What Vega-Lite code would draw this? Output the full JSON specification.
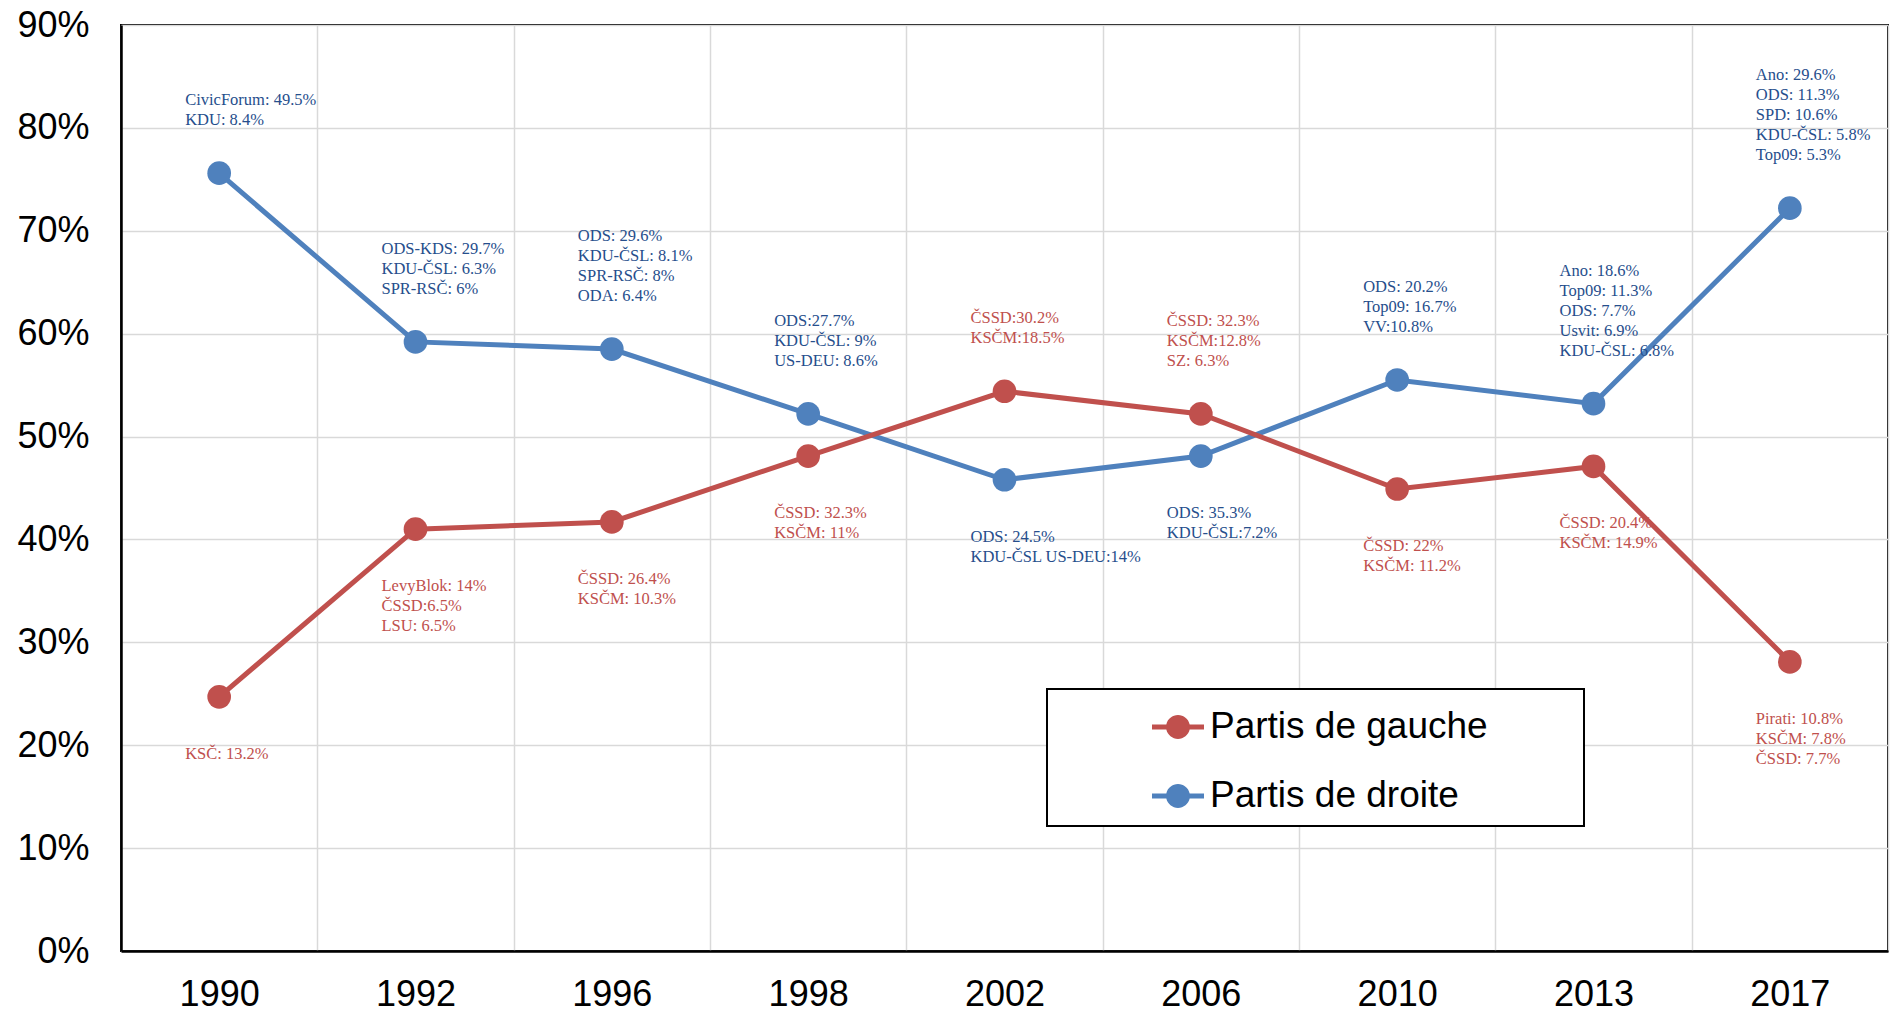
{
  "$schema": "https://vega.github.io/schema/vega-lite/v6.json",
  "autosize": "none",
  "width": 1767,
  "height": 926,
  "padding": {"left": 121, "top": 25, "right": 4, "bottom": 63},
  "background": "white",
  "config": {
    "view": {"stroke": "black", "strokeWidth": 2},
    "axis": {"gridColor": "#D9D9D9", "gridWidth": 1.5, "domainColor": "black", "domainWidth": 2.5, "ticks": false, "labelFont": "Liberation Sans", "labelFontSize": 36, "labelColor": "black", "title": null},
    "legend": {"strokeWidth": 2}
  },
  "data": {"values": [
    {"year": "1990", "series": "Partis de droite", "value": 75.6, "label": "CivicForum: 49.5%\nKDU: 8.4%"},
    {"year": "1990", "series": "Partis de gauche", "value": 24.7, "label": "KSČ: 13.2%"},
    {"year": "1992", "series": "Partis de droite", "value": 59.2, "label": "ODS-KDS: 29.7%\nKDU-ČSL: 6.3%\nSPR-RSČ: 6%"},
    {"year": "1992", "series": "Partis de gauche", "value": 41.0, "label": "LevyBlok: 14%\nČSSD:6.5%\nLSU: 6.5%"},
    {"year": "1996", "series": "Partis de droite", "value": 58.5, "label": "ODS: 29.6%\nKDU-ČSL: 8.1%\nSPR-RSČ: 8%\nODA: 6.4%"},
    {"year": "1996", "series": "Partis de gauche", "value": 41.7, "label": "ČSSD: 26.4%\nKSČM: 10.3%"},
    {"year": "1998", "series": "Partis de droite", "value": 52.2, "label": "ODS:27.7%\nKDU-ČSL: 9%\nUS-DEU: 8.6%"},
    {"year": "1998", "series": "Partis de gauche", "value": 48.1, "label": "ČSSD: 32.3%\nKSČM: 11%"},
    {"year": "2002", "series": "Partis de droite", "value": 45.8, "label": "ODS: 24.5%\nKDU-ČSL US-DEU:14%"},
    {"year": "2002", "series": "Partis de gauche", "value": 54.4, "label": "ČSSD:30.2%\nKSČM:18.5%"},
    {"year": "2006", "series": "Partis de droite", "value": 48.1, "label": "ODS: 35.3%\nKDU-ČSL:7.2%"},
    {"year": "2006", "series": "Partis de gauche", "value": 52.2, "label": "ČSSD: 32.3%\nKSČM:12.8%\nSZ: 6.3%"},
    {"year": "2010", "series": "Partis de droite", "value": 55.5, "label": "ODS: 20.2%\nTop09: 16.7%\nVV:10.8%"},
    {"year": "2010", "series": "Partis de gauche", "value": 44.9, "label": "ČSSD: 22%\nKSČM: 11.2%"},
    {"year": "2013", "series": "Partis de droite", "value": 53.2, "label": "Ano: 18.6%\nTop09: 11.3%\nODS: 7.7%\nUsvit: 6.9%\nKDU-ČSL: 6.8%"},
    {"year": "2013", "series": "Partis de gauche", "value": 47.1, "label": "ČSSD: 20.4%\nKSČM: 14.9%"},
    {"year": "2017", "series": "Partis de droite", "value": 72.2, "label": "Ano: 29.6%\nODS: 11.3%\nSPD: 10.6%\nKDU-ČSL: 5.8%\nTop09: 5.3%"},
    {"year": "2017", "series": "Partis de gauche", "value": 28.1, "label": "Pirati: 10.8%\nKSČM: 7.8%\nČSSD: 7.7%"}
  ]},
  "transform": [
    {"joinaggregate": [{"op": "max", "field": "value", "as": "maxv"}], "groupby": ["year"]}
  ],
  "encoding": {
    "x": {"field": "year", "type": "nominal", "sort": null,
      "scale": {"type": "band", "paddingInner": 0, "paddingOuter": 0},
      "axis": {"labelAngle": 0, "labelPadding": 26, "tickBand": "extent", "grid": true}},
    "y": {"field": "value", "type": "quantitative",
      "scale": {"domain": [0, 90], "nice": false},
      "axis": {"values": [0, 10, 20, 30, 40, 50, 60, 70, 80, 90], "labelExpr": "datum.value + '%'", "labelPadding": 32, "grid": true}}
  },
  "layer": [
    {
      "mark": {"type": "line", "strokeWidth": 5},
      "encoding": {
        "color": {"field": "series", "type": "nominal",
          "scale": {"domain": ["Partis de gauche", "Partis de droite"], "range": ["#C0504D", "#4F81BD"]},
          "legend": {
            "orient": "none", "legendX": 926, "legendY": 664,
            "title": "\u00a0", "titleOrient": "right", "titlePadding": 84, "titleFontSize": 2,
            "strokeColor": "black", "fillColor": "white",
            "padding": 12, "symbolOffset": 93, "labelOffset": 6, "rowPadding": 25,
            "symbolSize": 2704,
            "symbolType": "M -1 -0.1 L -0.449 -0.1 A 0.46 0.46 0 0 1 0.449 -0.1 L 1 -0.1 L 1 0.1 L 0.449 0.1 A 0.46 0.46 0 0 1 -0.449 0.1 L -1 0.1 Z",
            "labelFont": "Liberation Sans", "labelFontSize": 37, "labelColor": "black", "labelLimit": 500,
            "encode": {"symbols": {"update": {"fill": {"scale": "color", "field": "value"}, "stroke": {"value": "transparent"}, "strokeWidth": {"value": 0}}}}
          }}
      }
    },
    {
      "mark": {"type": "point", "filled": true, "size": 560, "opacity": 1, "shape": "circle"},
      "encoding": {
        "color": {"field": "series", "type": "nominal", "legend": null}
      }
    },
    {
      "transform": [
        {"filter": "datum.value == datum.maxv"},
        {"calculate": "datum.value + length(split(datum.label, '\\n')) * 20 * 90 / 926", "as": "labelAnchor"}
      ],
      "mark": {"type": "text", "align": "left", "baseline": "top", "dx": -34, "dy": -41, "font": "Liberation Serif", "fontSize": 16.5, "lineHeight": 20, "lineBreak": "\n"},
      "encoding": {
        "y": {"field": "labelAnchor", "type": "quantitative"},
        "text": {"field": "label"},
        "fill": {"field": "series", "type": "nominal", "scale": {"domain": ["Partis de gauche", "Partis de droite"], "range": ["#C0504D", "#264E8C"]}, "legend": null}
      }
    },
    {
      "transform": [{"filter": "datum.value < datum.maxv"}],
      "mark": {"type": "text", "align": "left", "baseline": "top", "dx": -34, "dy": 49, "font": "Liberation Serif", "fontSize": 16.5, "lineHeight": 20, "lineBreak": "\n"},
      "encoding": {
        "text": {"field": "label"},
        "fill": {"field": "series", "type": "nominal", "legend": null}
      }
    }
  ]
}
